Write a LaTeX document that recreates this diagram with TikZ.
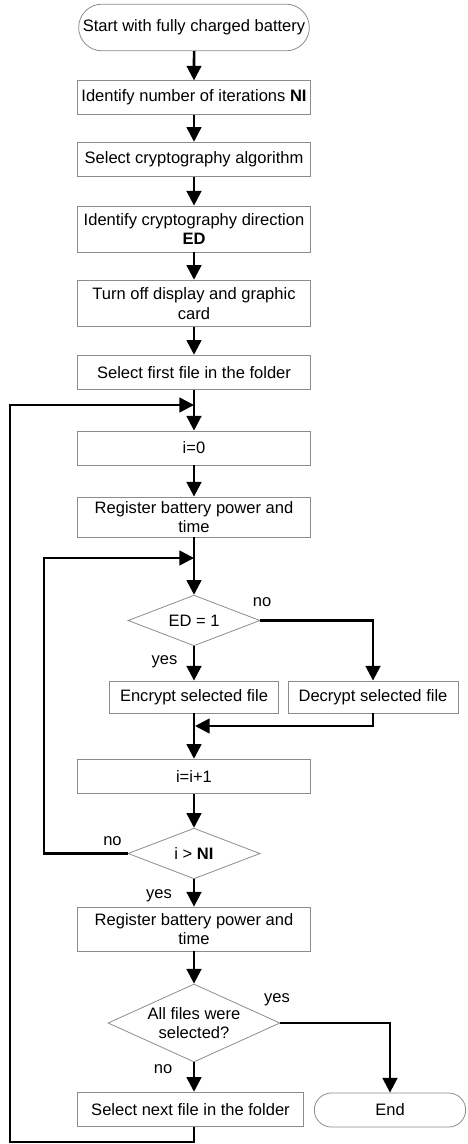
\documentclass[tikz,border=0pt]{standalone}
\usepackage{fontspec}
\setmainfont{Liberation Sans}
\usetikzlibrary{shapes.geometric,shapes.misc,arrows.meta}

\begin{document}
\begin{tikzpicture}[x=0.75pt,y=-0.75pt,
    every node/.style={font=\fontsize{12.4}{14.5}\selectfont},
    proc/.style={draw=black!45,line width=0.6pt,rectangle,minimum width=175pt,inner sep=1pt,align=center},
    term/.style={draw=black!45,line width=0.6pt,rounded rectangle,inner sep=1pt},
    decis/.style={draw=black!45,line width=0.6pt,diamond,inner sep=0pt,align=center},
    arr/.style={line width=1.9pt,-{Triangle[length=11pt,width=11pt]}},
    lbl/.style={inner sep=0pt}]
    % Moldura
    \useasboundingbox (0,0) rectangle (467,1144);

    % Caixas do fluxo principal
    \node[term,minimum width=175pt,minimum height=35pt] (start) at (194,27.5) {Start with fully charged battery};
    \node[proc,minimum height=25pt] (ni) at (194,97.5) {Identify number of iterations \textbf{NI}};
    \node[proc,minimum height=26pt] (alg) at (194,159.5) {Select cryptography algorithm};
    \node[proc,minimum height=34.5pt] (dir) at (194,229) {Identify cryptography direction\\\textbf{ED}};
    \node[proc,minimum height=35pt] (disp) at (194,303.5) {Turn off display and graphic\\card};
    \node[proc,minimum height=26pt] (first) at (194,372.5) {Select first file in the folder};
    \node[proc,minimum height=25.5pt] (izero) at (194,448) {i=0};
    \node[proc,minimum height=30pt] (reg1) at (194,517) {Register battery power and\\time};
    \node[decis,aspect=2.6,minimum width=99pt,minimum height=38pt] (ed) at (194,620.5) {ED = 1};
    \node[proc,minimum width=127pt,minimum height=24pt] (enc) at (194,697) {Encrypt selected file};
    \node[proc,minimum width=127.5pt,minimum height=24pt] (dec) at (373,697) {Decrypt selected file};
    \node[proc,minimum height=26pt] (incr) at (194,776.5) {i=i+1};
    \node[decis,aspect=2.6,minimum width=99pt,minimum height=38pt] (gtni) at (194,853.5) {i > \textbf{NI}};
    \node[proc,minimum height=33pt] (reg2) at (194,929) {Register battery power and\\time};
    \node[decis,aspect=2.2,minimum width=129pt,minimum height=58.5pt] (all) at (194,1023) {All files were\\selected?};
    \node[proc,minimum width=170pt,minimum height=26pt] (next) at (190.5,1109.5) {Select next file in the folder};
    \node[term,minimum width=115.5pt,minimum height=25.5pt] (end) at (390,1110) {End};

    % Rótulos sim/não
    \node[lbl] (edno) at (262,602) {no};
    \node[lbl] (edyes) at (164.5,662) {yes};
    \node[lbl] (gtnino) at (112.5,841) {no};
    \node[lbl] (gtniyes) at (159,896) {yes};
    \node[lbl] (allyes) at (277,1000) {yes};
    \node[lbl] (allno) at (163,1069) {no};

    % Pontos de junção dos ciclos
    \coordinate (outerin) at (194,405);
    \coordinate (outerleft) at (10,405);
    \coordinate (outerbot) at (194,1142);
    \coordinate (innerin) at (194,558);
    \coordinate (innerleft) at (44,558);
    \coordinate (merge) at (195,726);

    % Setas verticais
    \foreach \a/\b in {start/ni,ni/alg,alg/dir,dir/disp,disp/first,first/izero,izero/reg1,reg1/ed,ed/enc,enc/incr,incr/gtni,gtni/reg2,reg2/all}
        \draw[arr] (\a) -- (\b);

    % Ramos
    \draw[arr] (ed.east) -| (dec.north);
    \draw[arr] (dec.south) |- (merge);
    \draw[arr] (all.east) -| (end.north);
    \draw[arr] (all.south) -- (all.south |- next.north);

    % Ciclos
    \draw[arr] (gtni.west) -| (innerleft) -- (innerin);
    \draw[arr] (all.south |- next.south) -- (outerbot) -| (outerleft) -- (outerin);
\end{tikzpicture}
\end{document}
